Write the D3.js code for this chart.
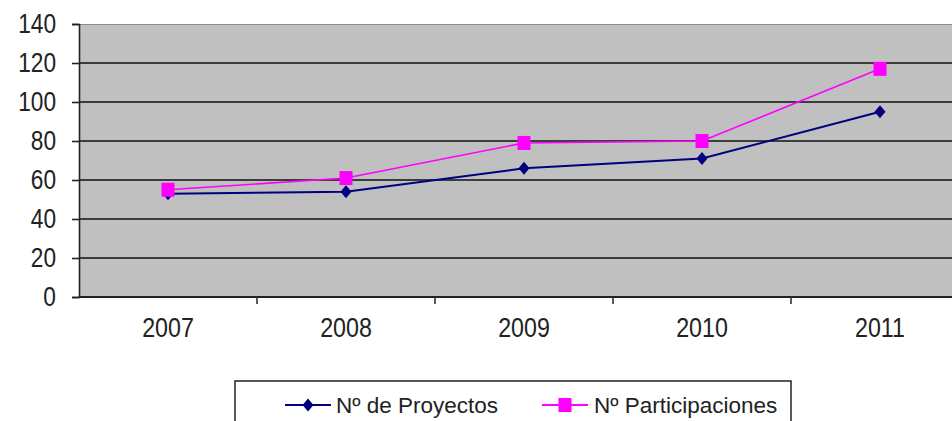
<!DOCTYPE html>
<html>
<head>
<meta charset="utf-8">
<script src="https://cdn.jsdelivr.net/npm/d3@7"></script>
<style>
  html, body { margin: 0; padding: 0; background: #fff; }
  svg { display: block; font-family: "Liberation Sans", Arial, sans-serif; }
</style>
</head>
<body>
<svg id="chart" width="952" height="421"></svg>
<script>
const years = ["2007", "2008", "2009", "2010", "2011"];
const proyectos = [53, 54, 66, 71, 95];
const participaciones = [55, 61, 79, 80, 117];
const yTicks = [0, 20, 40, 60, 80, 100, 120, 140];
const seriesNames = ["Nº de Proyectos", "Nº Participaciones"];

(function () {
const svg = d3.select("#chart");
const mLeft = 79, mTop = 24, mBottom = 297, bandRight = 969;

const x = d3.scaleBand().domain(years).range([mLeft, bandRight]).paddingInner(0).paddingOuter(0);
const y = d3.scaleLinear().domain([0, 140]).range([mBottom, mTop]);

// condensed tick-label look
function condense(sel, factor) {
  sel.each(function () {
    const len = this.getComputedTextLength();
    d3.select(this).attr("textLength", len * factor).attr("lengthAdjust", "spacingAndGlyphs");
  });
}

// plot area
svg.append("rect").attr("x", mLeft).attr("y", mTop).attr("width", 952 - mLeft).attr("height", mBottom - mTop)
  .attr("fill", "#c0c0c0");
svg.append("line").attr("x1", mLeft).attr("x2", 952).attr("y1", mTop + 0.5).attr("y2", mTop + 0.5)
  .attr("stroke", "#8a8a8a").attr("stroke-width", 1);

// gridlines
svg.append("g").selectAll("line").data(yTicks.filter(d => d > 0 && d < 140)).join("line")
  .attr("x1", mLeft).attr("x2", 952)
  .attr("y1", d => y(d)).attr("y2", d => y(d))
  .attr("stroke", "#111").attr("stroke-width", 1.6);

// y axis
const yAxis = d3.axisLeft(y).tickValues(yTicks).tickSize(7).tickPadding(16);
const gy = svg.append("g").attr("transform", `translate(${mLeft},0)`).call(yAxis);
gy.select(".domain").attr("stroke", "#222").attr("stroke-width", 1.6);
gy.selectAll(".tick line").attr("stroke", "#222").attr("stroke-width", 1.6);
gy.selectAll(".tick text").attr("font-size", 27).attr("fill", "#222")
  .attr("font-family", "Liberation Sans, Arial, sans-serif");
condense(gy.selectAll(".tick text"), 0.84);

// x axis
const xAxis = d3.axisBottom(x).tickSize(0).tickPadding(21);
const gx = svg.append("g").attr("transform", `translate(0,${mBottom})`).call(xAxis);
gx.select(".domain").remove();
gx.selectAll(".tick text").attr("font-size", 27).attr("fill", "#222")
  .attr("font-family", "Liberation Sans, Arial, sans-serif");
condense(gx.selectAll(".tick text"), 0.86);
svg.append("line").attr("x1", mLeft).attr("x2", 952).attr("y1", mBottom).attr("y2", mBottom)
  .attr("stroke", "#222").attr("stroke-width", 1.8);
// category boundary ticks
svg.append("g").selectAll("line").data(years.slice(1)).join("line")
  .attr("x1", d => x(d)).attr("x2", d => x(d))
  .attr("y1", mBottom).attr("y2", mBottom + 7)
  .attr("stroke", "#333").attr("stroke-width", 1.6);

const cx = d => x(d) + x.bandwidth() / 2;
const line = d3.line().x((d, i) => cx(years[i])).y(d => y(d));

// series
svg.append("path").datum(proyectos).attr("d", line).attr("fill", "none")
  .attr("stroke", "#000080").attr("stroke-width", 2);
svg.append("path").datum(participaciones).attr("d", line).attr("fill", "none")
  .attr("stroke", "#ff00ff").attr("stroke-width", 1.6);

const diamond = (g, px, py) => g.append("path")
  .attr("d", `M${px},${py - 6.5}L${px + 5.5},${py}L${px},${py + 6.5}L${px - 5.5},${py}Z`)
  .attr("fill", "#000080");
const square = (g, px, py) => g.append("rect")
  .attr("x", px - 6.5).attr("y", py - 7).attr("width", 13).attr("height", 14)
  .attr("fill", "#ff00ff");

const gm = svg.append("g");
proyectos.forEach((v, i) => diamond(gm, cx(years[i]), y(v)));
participaciones.forEach((v, i) => square(gm, cx(years[i]), y(v)));

// legend
const lg = svg.append("g");
lg.append("rect").attr("x", 235).attr("y", 381).attr("width", 556).attr("height", 60)
  .attr("fill", "#fff").attr("stroke", "#222").attr("stroke-width", 1.5);
const legendY = 405;
const items = [
  { name: seriesNames[0], x0: 285, x1: 331, tx: 336, color: "#000080", mark: diamond },
  { name: seriesNames[1], x0: 542, x1: 588, tx: 594, color: "#ff00ff", mark: square }
];
items.forEach(it => {
  lg.append("line").attr("x1", it.x0).attr("x2", it.x1).attr("y1", legendY).attr("y2", legendY)
    .attr("stroke", it.color).attr("stroke-width", 2);
  it.mark(lg, (it.x0 + it.x1) / 2, legendY);
  lg.append("text").attr("x", it.tx).attr("y", legendY).attr("dy", "0.35em")
    .attr("font-size", 22.5).attr("fill", "#222").text(it.name);
});
})();
</script>
</body>
</html>
